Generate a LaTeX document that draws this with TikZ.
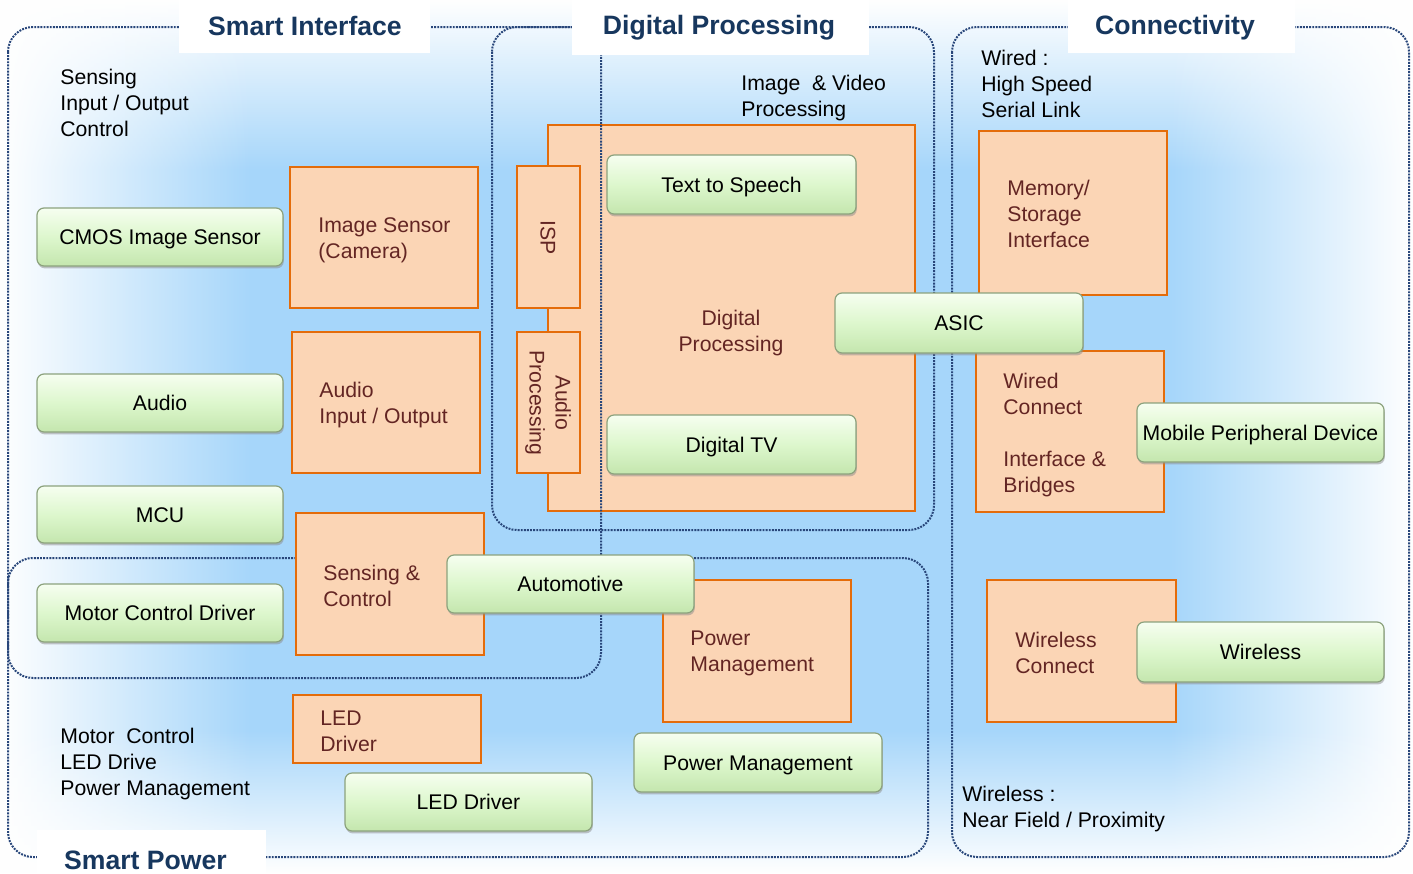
\documentclass[tikz,border=0pt]{standalone}
\usepackage{fontspec}
\setmainfont{Liberation Sans}
\usetikzlibrary{fadings,shadows}
\definecolor{bgblue}{RGB}{166,214,250}
\definecolor{ofill}{RGB}{251,213,181}
\definecolor{oline}{RGB}{228,108,10}
\definecolor{otxt}{RGB}{99,37,35}
\definecolor{dotc}{RGB}{40,70,122}
\definecolor{ttlc}{RGB}{23,55,94}
\definecolor{gtop}{RGB}{246,254,240}
\definecolor{gmid}{RGB}{221,247,205}
\definecolor{gbot}{RGB}{196,230,174}
\definecolor{gline}{RGB}{140,162,125}
\tikzfading[name=fadeN, top color=transparent!0, bottom color=transparent!100]
\tikzfading[name=fadeS, top color=transparent!100, bottom color=transparent!0]
\tikzfading[name=fadeW, left color=transparent!0, right color=transparent!100]
\tikzfading[name=fadeE, left color=transparent!100, right color=transparent!0]
\newcommand\labfont{\fontsize{10.6}{13}\selectfont}
\newcommand\ttlfont{\fontsize{13.3}{16}\selectfont\bfseries}
\newcommand\gboxnode[6]{\node[gbox, minimum width={(#4-#2)*0.5pt}, minimum height={(#5-#3)*0.5pt}] (#1) at ({(#2+#4)/2},{(#3+#5)/2}) {#6};}
\newcommand\oboxnode[5]{\node[obox, minimum width={(#4-#2)*0.5pt}, minimum height={(#5-#3)*0.5pt}] (#1) at ({(#2+#4)/2},{(#3+#5)/2}) {};}
\begin{document}
\begin{tikzpicture}[x=0.5pt, y=-0.5pt,
  gbox/.style={rectangle, rounded corners=3.5pt, draw=gline, line width=0.6pt, top color=gtop, bottom color=gbot, middle color=gmid, drop shadow={shadow xshift=0.4pt, shadow yshift=-1.2pt, fill=black!45, opacity=0.5}, inner sep=0pt, text height=7.6pt, text depth=0pt, font=\labfont, text=black},
  obox/.style={rectangle, draw=oline, fill=ofill, line width=1.25pt, inner sep=0pt},
  otext/.style={font=\labfont, text=otxt, align=left, inner sep=0pt, anchor=west},
  ptext/.style={font=\labfont, text=black, align=left, inner sep=0pt, anchor=west},
  dotbox/.style={draw=dotc, line width=1pt, dash pattern=on 0.95pt off 0.6pt, rounded corners=12.5pt},
  ttlbox/.style={fill=white},
  ttl/.style={font=\ttlfont, text=ttlc, inner sep=0pt, anchor=base}]
\useasboundingbox (0,0) rectangle (1413,873);
% background
\fill[bgblue] (0,0) rectangle (1413,873);
\fill[white, path fading=fadeN] (0,0) rectangle (1413,170);
\fill[white, path fading=fadeW] (0,0) rectangle (250,873);
\fill[white, path fading=fadeE] (1170,0) rectangle (1413,873);
\fill[white, path fading=fadeS] (0,730) rectangle (1413,873);
% dotted group boxes (under orange boxes)
\draw[dotbox] (8,558) rectangle (928,857);
\draw[dotbox] (492,27) rectangle (934,530);
\draw[dotbox] (952,27) rectangle (1409,857);
% orange boxes
\oboxnode{dproc}{548}{125}{915}{511}
\oboxnode{isp}{517}{166}{580}{308}
\oboxnode{audproc}{517}{332}{580}{473}
\oboxnode{imgsens}{290}{167}{478}{308}
\oboxnode{audioio}{292}{332}{480}{473}
\oboxnode{senscon}{296}{513}{484}{655}
\oboxnode{leddriver}{293}{695}{481}{763}
\oboxnode{pwrbox}{663}{580}{851}{722}
\oboxnode{memory}{979}{131}{1167}{295}
\oboxnode{wired}{976}{351}{1164}{512}
\oboxnode{wlconn}{987}{580}{1176}{722}
% smart interface box (over orange)
\draw[dotbox] (8,27) rectangle (601,678);
% title boxes
\fill[ttlbox] (179,0) rectangle (430,53);
\fill[ttlbox] (572,0) rectangle (869,55);
\fill[ttlbox] (1068,0) rectangle (1295,53);
\fill[ttlbox] (37,830) rectangle (266,873);
\node[ttl] (ttlsi) at (305,35) {Smart Interface};
\node[ttl] (ttldp) at (719,34) {Digital Processing};
\node[ttl] (ttlco) at (1175,34) {Connectivity};
\node[ttl] (ttlsp) at (145.5,869) {Smart Power};
% orange texts
\node[otext] (imgsenst) at (318,240) {Image Sensor\\(Camera)};
\node[otext] (audioiot) at (319,405) {Audio\\Input / Output};
\node[otext] (senscont) at (323,586) {Sensing \&\\Control};
\node[otext] (leddrivert) at (320,731) {LED\\Driver};
\node[otext] (pwrboxt) at (690,653) {Power\\Management};
\node[otext, align=center, anchor=center] (dproct) at (731,333) {Digital\\Processing};
\node[otext, anchor=center, rotate=-90] (ispt) at (548,238) {ISP};
\node[otext, anchor=center, align=center, rotate=-90] (audproct) at (548,403) {Audio\\Processing};
\node[otext] (memoryt) at (1007,214) {Memory/\\Storage\\Interface};
\node[otext] (wiredt) at (1003,435) {Wired\\Connect\\[13pt]Interface \&\\Bridges};
\node[otext] (wlconnt) at (1015,653) {Wireless\\Connect};
% green boxes
\gboxnode{cmos}{37}{208}{283}{266}{CMOS Image Sensor}
\gboxnode{audio}{37}{374}{283}{432}{Audio}
\gboxnode{mcu}{37}{486}{283}{543}{MCU}
\gboxnode{motor}{37}{584}{283}{642}{Motor Control Driver}
\gboxnode{autom}{447}{555}{694}{613}{Automotive}
\gboxnode{leddrv}{345}{773}{592}{831}{LED Driver}
\gboxnode{pwrmg}{634}{733}{882}{792}{Power Management}
\gboxnode{tts}{607}{155}{856}{214}{Text to Speech}
\gboxnode{dtv}{607}{415}{856}{474}{Digital TV}
\gboxnode{asic}{835}{293}{1083}{353}{ASIC}
\gboxnode{mobile}{1137}{403}{1384}{462}{Mobile Peripheral Device}
\gboxnode{wireless}{1137}{622}{1384}{682}{Wireless}
% plain texts
\node[ptext] (sitxt) at (60,103) {Sensing\\Input / Output\\Control};
\node[ptext] (ivtxt) at (741,98) {Image\ \ \& Video\\Processing};
\node[ptext] (wdtxt) at (981,84) {Wired :\\High Speed\\Serial Link};
\node[ptext] (sptxt) at (60,764) {Motor\ \ Control\\LED Drive\\Power Management};
\node[ptext] (wltxt) at (962,809) {Wireless :\\Near Field / Proximity};
\end{tikzpicture}
\end{document}
